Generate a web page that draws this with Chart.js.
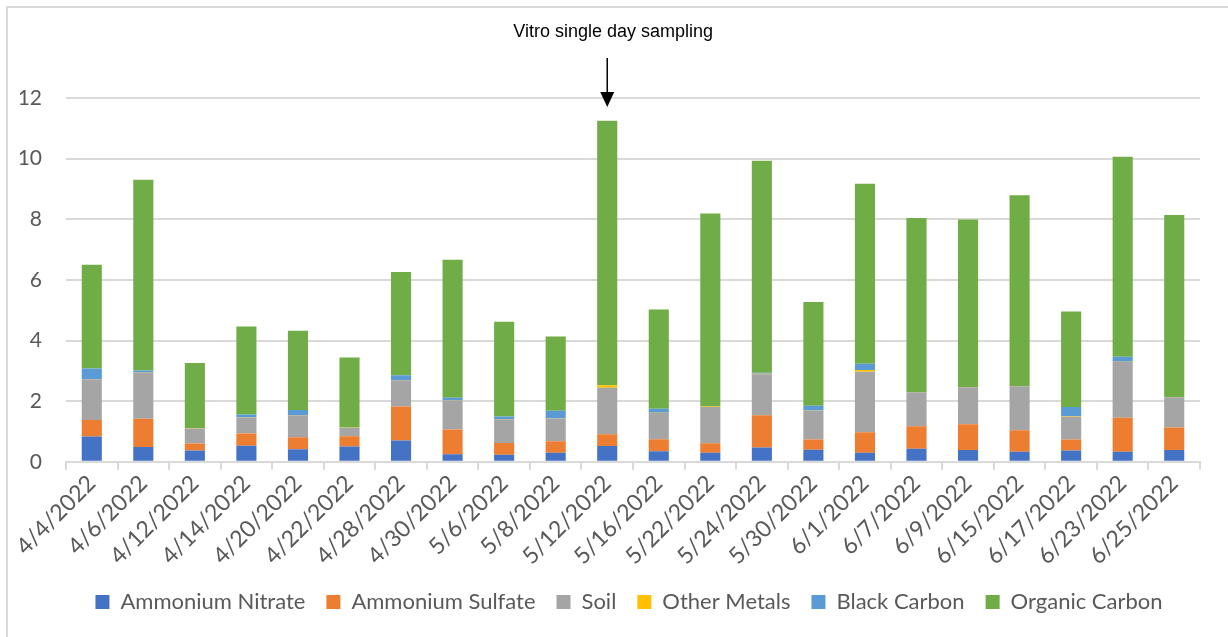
<!DOCTYPE html>
<html>
<head>
<meta charset="utf-8">
<script src="https://cdn.jsdelivr.net/npm/chart.js@4"></script>
<style>
  html, body { margin: 0; padding: 0; background: #fff; }
  #wrap { width: 1228px; height: 637px; }
</style>
</head>
<body>
<div id="wrap"><canvas id="pmChart" width="1228" height="637"></canvas></div>
<script>
// sample dates
const dates = ['4/4/2022','4/6/2022','4/12/2022','4/14/2022','4/20/2022','4/22/2022','4/28/2022','4/30/2022',
  '5/6/2022','5/8/2022','5/12/2022','5/16/2022','5/22/2022','5/24/2022','5/30/2022','6/1/2022',
  '6/7/2022','6/9/2022','6/15/2022','6/17/2022','6/23/2022','6/25/2022']

const ammoniumNitrate = [0.83,0.49,0.37,0.53,0.41,0.50,0.70,0.25,0.23,0.30,0.52,0.35,0.30,0.47,0.40,0.30,0.43,0.39,0.33,0.37,0.33,0.39]
const ammoniumSulfate = [0.55,0.93,0.23,0.40,0.40,0.34,1.12,0.81,0.39,0.38,0.39,0.39,0.31,1.06,0.33,0.67,0.74,0.85,0.71,0.36,1.12,0.74]
const soil            = [1.34,1.53,0.50,0.52,0.72,0.28,0.87,0.97,0.78,0.74,1.53,0.87,1.20,1.36,0.95,2.00,1.12,1.22,1.45,0.75,1.84,1.00]
const otherMetals     = [0.01,0.01,0.01,0.01,0.01,0.01,0.01,0.01,0.01,0.01,0.08,0.01,0.01,0.01,0.01,0.06,0.01,0.01,0.01,0.01,0.01,0.01]
const blackCarbon     = [0.35,0.05,0.00,0.10,0.17,0.00,0.15,0.07,0.08,0.25,0.00,0.13,0.00,0.04,0.16,0.20,0.00,0.00,0.00,0.32,0.16,0.00]
const organicCarbon   = [3.42,6.29,2.15,2.90,2.61,2.31,3.41,4.55,3.13,2.45,8.73,3.27,6.37,6.99,3.42,5.94,5.74,5.52,6.29,3.15,6.60,6.00]

const yTicks = [0, 2, 4, 6, 8, 10, 12]

const noteText = 'Vitro single day sampling'
const noteIndex = 10   // 5/12/2022

const fontFam = 'Lato, "Open Sans", sans-serif'
const gridGray = '#d9d9d9'
const textGray = '#595959'

// white background + excel style frame on left/top
const framePlugin = {
  id: 'frame',
  beforeDraw(chart) {
    const c = chart.ctx
    c.save()
    c.fillStyle = '#fff'
    c.fillRect(0, 0, chart.width, chart.height)
    c.strokeStyle = gridGray
    c.lineWidth = 2
    c.beginPath()
    c.moveTo(7, chart.height)
    c.lineTo(7, 7)
    c.lineTo(chart.width, 7)
    c.stroke()
    c.restore()
  }
}

// legend sits a bit right of center in the original
const legendShift = {
  id: 'legendShift',
  afterLayout(chart) {
    chart.legend.left += 19
    chart.legend.right += 19
  }
}

// arrow + note over the single-day sample
const notePlugin = {
  id: 'note',
  afterDraw(chart) {
    const c = chart.ctx
    const x = chart.scales.x.getPixelForValue(noteIndex)
    const tip = chart.chartArea.top + 9
    const start = chart.chartArea.top - 40
    c.save()
    c.strokeStyle = '#000'
    c.fillStyle = '#000'
    c.lineWidth = 1.5
    c.beginPath()
    c.moveTo(x, start)
    c.lineTo(x, tip - 12)
    c.stroke()
    c.beginPath()
    c.moveTo(x - 7, tip - 15)
    c.lineTo(x + 7, tip - 15)
    c.lineTo(x, tip)
    c.closePath()
    c.fill()
    c.font = '18px "Liberation Sans", Arial, sans-serif'
    c.textAlign = 'center'
    c.textBaseline = 'middle'
    c.fillText(noteText, x + 6, chart.chartArea.top - 66)
    c.restore()
  }
}

const ctx = document.getElementById('pmChart').getContext('2d')
const pmChart = new Chart(ctx, {
  type: 'bar',
  data: {
    labels: dates,
    datasets: [
      { label: 'Ammonium Nitrate', data: ammoniumNitrate, backgroundColor: '#4472C4' },
      { label: 'Ammonium Sulfate', data: ammoniumSulfate, backgroundColor: '#ED7D31' },
      { label: 'Soil', data: soil, backgroundColor: '#A5A5A5' },
      { label: 'Other Metals', data: otherMetals, backgroundColor: '#FFC000' },
      { label: 'Black Carbon', data: blackCarbon, backgroundColor: '#5B9BD5' },
      { label: 'Organic Carbon', data: organicCarbon, backgroundColor: '#70AD47' }
    ]
  },
  options: {
    responsive: false,
    animation: false,
    barPercentage: 0.39,
    categoryPercentage: 1,
    layout: { padding: { top: 98, right: 28, left: 20, bottom: 14 } },
    plugins: {
      legend: {
        position: 'bottom',
        labels: {
          boxWidth: 14,
          boxHeight: 14,
          padding: 21,
          color: textGray,
          font: { family: fontFam, size: 22 }
        }
      },
      tooltip: { enabled: false }
    },
    scales: {
      x: {
        stacked: true,
        grid: {
          offset: true,
          drawOnChartArea: false,
          drawTicks: true,
          tickLength: 8,
          color: gridGray,
          lineWidth: 2
        },
        border: { display: true, color: gridGray, width: 2 },
        ticks: {
          minRotation: 45,
          maxRotation: 45,
          autoSkip: false,
          color: textGray,
          padding: 0,
          font: { family: fontFam, size: 23 }
        }
      },
      y: {
        stacked: true,
        min: 0,
        max: 12,
        afterBuildTicks(scale) {
          scale.ticks = yTicks.map(v => ({ value: v }))
        },
        afterFit(scale) { scale.width = 46 },
        grid: { color: gridGray, lineWidth: 2, drawTicks: false },
        border: { display: false },
        ticks: {
          color: textGray,
          padding: 24,
          font: { family: fontFam, size: 21 }
        }
      }
    }
  },
  plugins: [framePlugin, legendShift, notePlugin]
})
</script>
</body>
</html>
